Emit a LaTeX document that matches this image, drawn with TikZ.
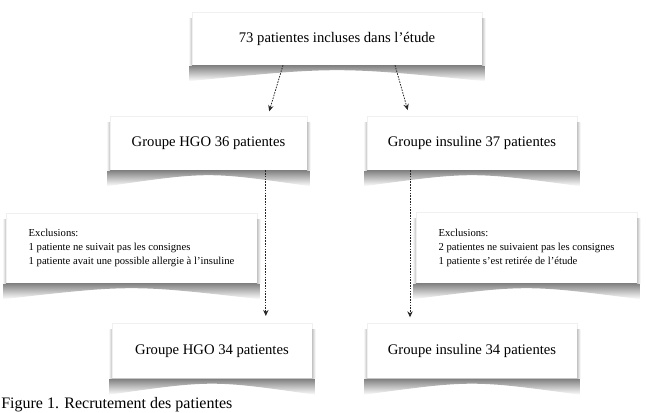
\documentclass[tikz,border=0pt]{standalone}
\usepackage{fontspec}
\setmainfont{Liberation Serif}
\usetikzlibrary{positioning,arrows.meta}

% curved paper shadow under a box, plus soft sides
\newcommand{\paperShadow}[1]{%
  \shade[top color=black!50, bottom color=white]
    ([xshift=-2pt]#1.south west) -- ([xshift=-2pt,yshift=-12pt]#1.south west)
    .. controls ([yshift=-1pt]#1.south) and ([yshift=-1pt]#1.south) .. ([xshift=2pt,yshift=-12pt]#1.south east)
    -- ([xshift=2pt]#1.south east) -- cycle;
  \shade[left color=white, right color=black!22]
    ([xshift=-2.5pt,yshift=-5pt]#1.north west) rectangle (#1.south west);
  \shade[left color=black!22, right color=white]
    ([yshift=-5pt]#1.north east) rectangle ([xshift=2.5pt]#1.south east);
}

\begin{document}
\begin{tikzpicture}[
    x=0.75pt, y=-0.75pt,
    >={Stealth[length=4.5pt, width=4pt]},
    box/.style={
        fill=white,
        draw=black!6,
        line width=0.3pt,
        text centered,
        align=center,
        inner sep=0pt,
        font=\fontsize{11}{13}\selectfont
    },
    excl/.style={
        fill=white,
        draw=black!6,
        line width=0.3pt,
        align=left,
        inner sep=0pt,
        font=\fontsize{8}{10.5}\selectfont
    },
    flow/.style={->, black!85, line width=0.6pt, dash pattern=on 1.2pt off 0.9pt}
]
\useasboundingbox (0,0) rectangle (646,413);

% --- Boxes ---
\node[box, minimum width=217.5pt, minimum height=39.75pt] (total) at (337,38.5)
    {73 patientes incluses dans l’étude};
\node[box, minimum width=147.75pt, minimum height=40.5pt] (hgo36) at (208.5,143)
    {Groupe HGO 36 patientes};
\node[box, minimum width=157.5pt, minimum height=40.5pt] (ins37) at (472,143)
    {Groupe insuline 37 patientes};
\node[excl, minimum width=188.25pt, minimum height=52.5pt] (exclhgo) at (131.5,248)
    {Exclusions:\\1 patiente ne suivait pas les consignes\\1 patiente avait une possible allergie à l’insuline};
\node[excl, minimum width=165.75pt, minimum height=53.25pt] (exclins) at (526.5,247.5)
    {Exclusions:\\2 patientes ne suivaient pas les consignes\\1 patiente s’est retirée de l’étude};
\node[box, minimum width=150pt, minimum height=41.25pt] (hgo34) at (212,351)
    {Groupe HGO 34 patientes};
\node[box, minimum width=157.5pt, minimum height=41.25pt] (ins34) at (472,351)
    {Groupe insuline 34 patientes};

% --- Shadows ---
\foreach \b in {total,hgo36,ins37,exclhgo,exclins,hgo34,ins34}
    \paperShadow{\b};

% --- Flow arrows ---
\draw[flow, shorten >=3.5pt] ([xshift=-40.5pt]total.south) -- ([xshift=44.5pt]hgo36.north);
\draw[flow, shorten >=4.5pt] ([xshift=43.5pt]total.south) -- ([xshift=-47pt]ins37.north);
\draw[flow, shorten >=5.5pt] ([xshift=43pt]hgo36.south) -- ([xshift=43pt]hgo36.south |- hgo34.north);
\draw[flow, shorten >=4.5pt] ([xshift=-46.5pt]ins37.south) -- ([xshift=-46.5pt]ins37.south |- ins34.north);

% --- Caption ---
\node[anchor=base west, inner sep=0pt, font=\fontsize{12}{14}\selectfont] (caption) at (1,408.5)
    {Figure 1. Recrutement des patientes};

\end{tikzpicture}
\end{document}
